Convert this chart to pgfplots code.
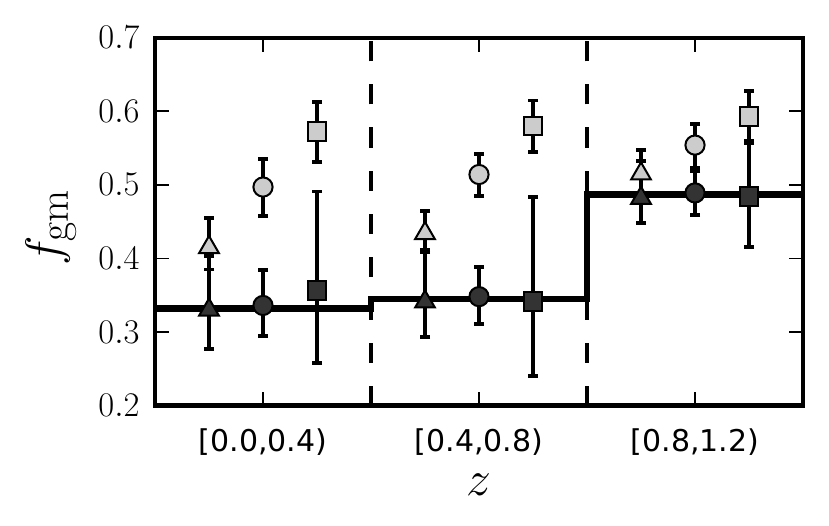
\documentclass[border=0pt]{standalone}
\usepackage[no-math]{fontspec}
\newfontfamily\dejavu{DejaVu Sans}
\usepackage{pgfplots}
\usepackage{pgfplotstable}
\pgfplotsset{compat=1.18}
\definecolor{lightm}{HTML}{CCCCCC}
\definecolor{darkm}{HTML}{333333}
% marker positions
\pgfplotstableread{
x y
0.1 0.330
0.5 0.341
0.9 0.482
}\darktri
\pgfplotstableread{
x y
0.1 0.415
0.5 0.434
0.9 0.515
}\lighttri
\pgfplotstableread{
x y
0.2 0.336
0.6 0.348
1.0 0.489
}\darkcirc
\pgfplotstableread{
x y
0.2 0.497
0.6 0.514
1.0 0.554
}\lightcirc
\pgfplotstableread{
x y
0.3 0.356
0.7 0.341
1.1 0.484
}\darksq
\pgfplotstableread{
x y
0.3 0.572
0.7 0.580
1.1 0.593
}\lightsq
\begin{document}
\begin{tikzpicture}
\useasboundingbox (-77.5pt,-59.75pt) rectangle (337pt,202.75pt);
\begin{axis}[
  at={(0,0)}, anchor=south west,
  scale only axis, width=324pt, height=183.9pt,
  xmin=0, xmax=1.2, ymin=0.2, ymax=0.7,
  axis line style={line width=2.1pt},
  tick style={line width=0.8pt, black},
  major tick length=7pt, tick align=inside,
  xtick={0.2,0.6,1.0},
  xticklabels={{[0.0,0.4)},{[0.4,0.8)},{[0.8,1.2)}},
  xticklabel style={font=\dejavu\fontsize{15}{18}\selectfont, anchor=north, inner sep=0pt, yshift=-11.3pt},
  ytick={0.2,0.3,0.4,0.5,0.6,0.7},
  yticklabel style={font=\fontsize{17.28}{20}\selectfont, anchor=east, inner sep=0pt, xshift=-7.5pt,
    /pgf/number format/.cd, fixed, precision=1, fixed zerofill},
  xlabel={$z$},
  xlabel style={font=\fontsize{24.88}{28}\selectfont, at={(axis description cs:0.5,0)}, anchor=center, yshift=-39.5pt},
  ylabel={$f_{\rm gm}$},
  ylabel style={font=\fontsize{24.88}{28}\selectfont, at={(axis description cs:-0.1605,0.485)}, anchor=center},
  clip=false,
  unbounded coords=jump,
]
% dashed bin separators
\addplot[black, line width=2.2pt, dash pattern=on 10pt off 11.5pt] coordinates {(0.4,0.2) (0.4,0.7)};
\addplot[black, line width=2.2pt, dash pattern=on 10pt off 11.5pt] coordinates {(0.8,0.2) (0.8,0.7)};
% error bars (lower end, upper end), capped
\addplot[black, line width=1.9pt, mark=-, mark size=2.6pt, mark options={solid, line width=1.9pt}] coordinates {
 (0.1,0.277) (0.1,0.403) (nan,nan)
 (0.5,0.293) (0.5,0.408) (nan,nan)
 (0.9,0.448) (0.9,0.532) (nan,nan)
 (0.1,0.385) (0.1,0.455) (nan,nan)
 (0.5,0.411) (0.5,0.464) (nan,nan)
 (0.9,0.489) (0.9,0.547) (nan,nan)
 (0.2,0.295) (0.2,0.384) (nan,nan)
 (0.6,0.311) (0.6,0.388) (nan,nan)
 (1.0,0.459) (1.0,0.519) (nan,nan)
 (0.2,0.458) (0.2,0.535) (nan,nan)
 (0.6,0.485) (0.6,0.542) (nan,nan)
 (1.0,0.523) (1.0,0.583) (nan,nan)
 (0.3,0.258) (0.3,0.491) (nan,nan)
 (0.7,0.240) (0.7,0.483) (nan,nan)
 (1.1,0.415) (1.1,0.557) (nan,nan)
 (0.3,0.531) (0.3,0.613) (nan,nan)
 (0.7,0.545) (0.7,0.6145) (nan,nan)
 (1.1,0.560) (1.1,0.628)
};
% step line
\addplot[black, line width=3.3pt, const plot, mark=none] coordinates {(0,0.332) (0.4,0.345) (0.8,0.487) (1.2,0.487)};
% markers
\addplot[only marks, mark=triangle*, mark size=5.7pt, mark options={fill=darkm, draw=black, line width=1pt}] table[x=x, y=y] {\darktri};
\addplot[only marks, mark=triangle*, mark size=5.7pt, mark options={fill=lightm, draw=black, line width=1pt}] table[x=x, y=y] {\lighttri};
\addplot[only marks, mark=*, mark size=4.8pt, mark options={fill=darkm, draw=black, line width=1pt}] table[x=x, y=y] {\darkcirc};
\addplot[only marks, mark=*, mark size=4.8pt, mark options={fill=lightm, draw=black, line width=1pt}] table[x=x, y=y] {\lightcirc};
\addplot[only marks, mark=square*, mark size=4.7pt, mark options={fill=darkm, draw=black, line width=1pt}] table[x=x, y=y] {\darksq};
\addplot[only marks, mark=square*, mark size=4.7pt, mark options={fill=lightm, draw=black, line width=1pt}] table[x=x, y=y] {\lightsq};
\end{axis}
\end{tikzpicture}
\end{document}
